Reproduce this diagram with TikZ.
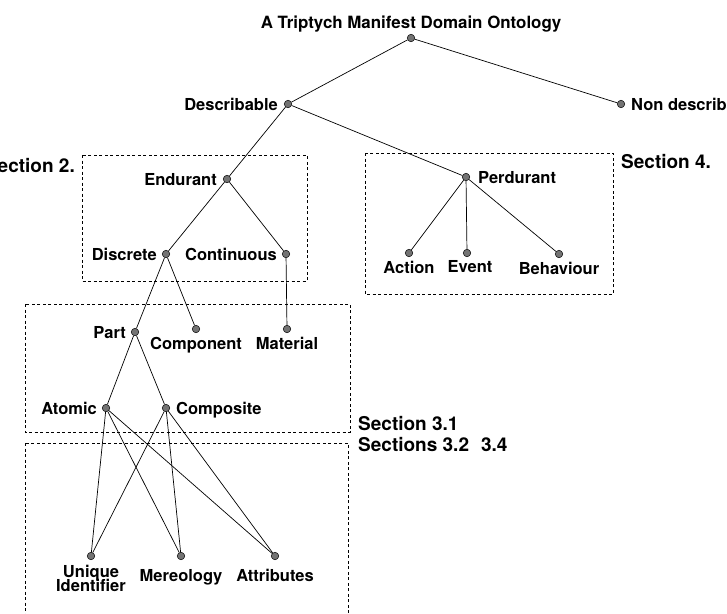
\documentclass[tikz,border=0pt]{standalone}
\usepackage{fontspec}
\setmainfont{TeX Gyre Heros}
\usetikzlibrary{positioning}
\begin{document}
\begin{tikzpicture}[x=1pt,y=-1pt]
  \tikzset{node distance=5pt,
           dot/.style={circle,draw=black,line width=0.5pt,fill=black!55,inner sep=0pt,minimum size=7.5pt},
           txt/.style={font=\fontsize{16.5}{16}\selectfont\bfseries,inner sep=1pt,text depth=0pt},
           secttxt/.style={font=\fontsize{19}{20}\selectfont\bfseries,inner sep=1pt,text depth=0pt},
           edge/.style={line width=0.7pt},
           sectbox/.style={line width=0.6pt,dash pattern=on 3pt off 2.5pt}}
  \useasboundingbox (0,0) rectangle (727,613);
  \clip (0,0) rectangle (727,613);

  % sections
  \draw[sectbox] (82,155) rectangle (307,281);
  \draw[sectbox] (365,153) rectangle (613,294);
  \draw[sectbox] (25,304) rectangle (350,432);
  \draw[sectbox] (25,443) rectangle (348,625);
  \node[secttxt,anchor=east] (sec2) at (76,165) {Section 2.};
  \node[secttxt,anchor=west] (sec4) at (620,161) {Section 4.};
  \node[secttxt,anchor=west] (sec31) at (357,423) {Section 3.1};
  \node[secttxt,anchor=west] (sec32) at (357,444) {Sections 3.2\hspace{12pt}3.4};

  % tree
  \node[dot] (root) at (411,38) {};
  \node[dot] (desc) at (288,104) {};
  \node[dot] (nondesc) at (621,104) {};
  \node[dot] (endu) at (227,179) {};
  \node[dot] (perd) at (466,177) {};
  \node[dot] (disc) at (166,254) {};
  \node[dot] (cont) at (286,254) {};
  \node[dot] (act) at (409,253) {};
  \node[dot] (evt) at (467,253) {};
  \node[dot] (beh) at (559,254) {};
  \node[dot] (part) at (135,332) {};
  \node[dot] (comp) at (196,329) {};
  \node[dot] (mat) at (287,329) {};
  \node[dot] (atom) at (106,408) {};
  \node[dot] (compo) at (166,408) {};
  \node[dot] (uid) at (91,556) {};
  \node[dot] (mer) at (181,556) {};
  \node[dot] (att) at (275,556) {};

  \node[txt,above=4pt of root,font=\fontsize{16.9}{17}\selectfont\bfseries] (title) {A Triptych Manifest Domain Ontology};
  \node[txt,left=of desc] (descl) {Describable};
  \node[txt,right=of nondesc] (nondescl) {Non describable};
  \node[txt,left=of endu] (endul) {Endurant};
  \node[txt,right=7pt of perd] (perdl) {Perdurant};
  \node[txt,left=4pt of disc] (discl) {Discrete};
  \node[txt,left=4pt of cont] (contl) {Continuous};
  \node[txt,below=3pt of act] (actl) {Action};
  \node[txt,below=2pt of evt,xshift=3pt] (evtl) {Event};
  \node[txt,below=3pt of beh] (behl) {Behaviour};
  \node[txt,left=4pt of part] (partl) {Part};
  \node[txt,below=3pt of comp] (compl) {Component};
  \node[txt,below=3pt of mat] (matl) {Material};
  \node[txt,left=4pt of atom] (atoml) {Atomic};
  \node[txt,right=5pt of compo] (compol) {Composite};
  \node[txt,below=4pt of uid,align=center] (uidl) {Unique\\[-2.5pt]Identifier};
  \node[txt,below=8pt of mer] (merl) {Mereology};
  \node[txt,below=8pt of att] (attl) {Attributes};

  \draw[edge] (root) -- (desc);
  \draw[edge] (root) -- (nondesc);
  \draw[edge] (desc) -- (endu);
  \draw[edge] (desc) -- (perd);
  \draw[edge] (endu) -- (disc);
  \draw[edge] (endu) -- (cont);
  \draw[edge] (perd) -- (act);
  \draw[edge] (perd) -- (evt);
  \draw[edge] (perd) -- (beh);
  \draw[edge] (disc) -- (part);
  \draw[edge] (disc) -- (comp);
  \draw[edge] (cont) -- (mat);
  \draw[edge] (part) -- (atom);
  \draw[edge] (part) -- (compo);
  \foreach \a in {atom,compo}
    \foreach \b in {uid,mer,att}
      \draw[edge] (\a) -- (\b);
\end{tikzpicture}
\end{document}
